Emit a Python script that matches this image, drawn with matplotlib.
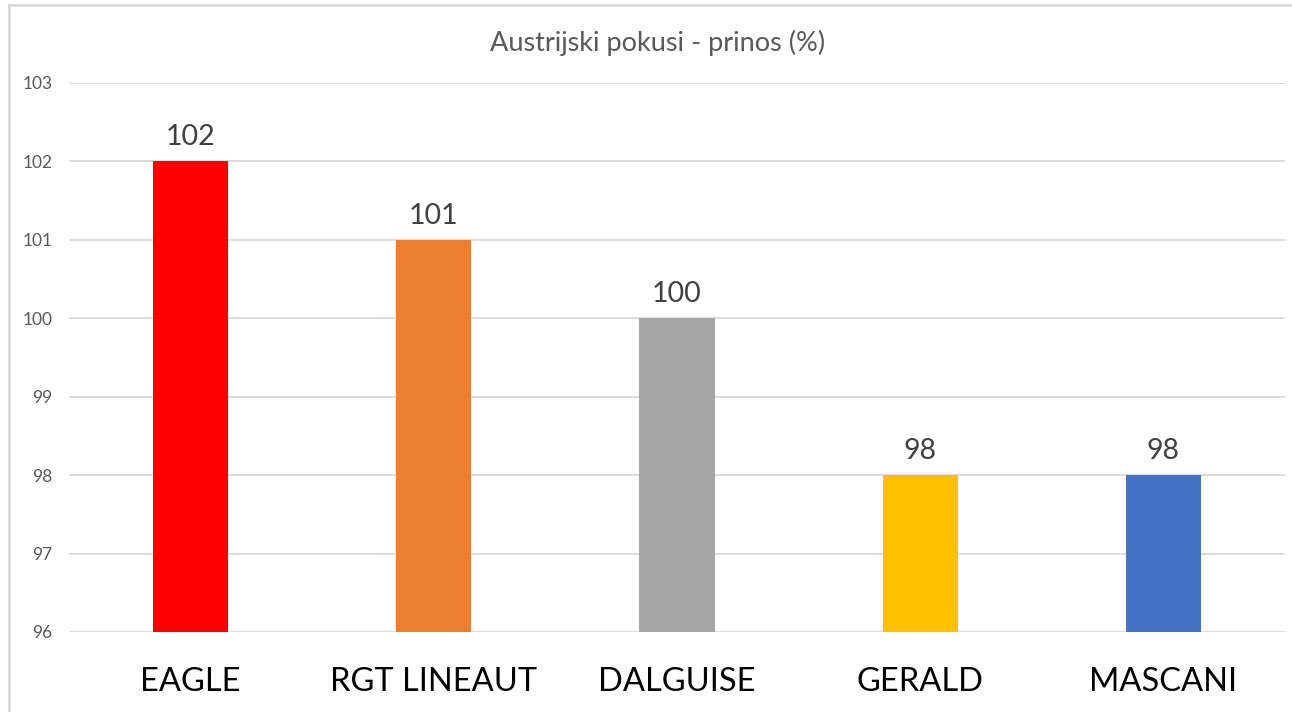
import matplotlib.pyplot as plt
from matplotlib.patches import Rectangle

categories = ["EAGLE", "RGT LINEAUT", "DALGUISE", "GERALD", "MASCANI"]
values = [102, 101, 100, 98, 98]
colors = ["#FF0000", "#ED7D31", "#A5A5A5", "#FFC000", "#4472C4"]
yticks = [96, 97, 98, 99, 100, 101, 102, 103]

plt.rcParams['font.family'] = ['Lato', 'DejaVu Sans']

W, H = 1292, 712
fig = plt.figure(figsize=(W / 100, H / 100), dpi=100)
ax = fig.add_axes([69 / W, 1 - 632 / H, (1285 - 69) / W, (632 - 83) / H])

x = list(range(len(categories)))
ax.bar(x, [v - 96 for v in values], bottom=96, width=0.31, color=colors, zorder=3)

for xi, v in zip(x, values):
    ax.text(xi, v + 0.14, str(v), ha='center', va='bottom', fontsize=20.5, color='#404040')

ax.set_xlim(-0.5, len(categories) - 0.5)
ax.set_ylim(96, 103)
ax.set_yticks(yticks)
ax.set_yticklabels([str(t) for t in yticks], fontsize=12.5, color='#595959')
ax.set_xticks(x)
ax.set_xticklabels(categories, fontsize=23.5, color='#000000')
ax.tick_params(axis='y', length=0, pad=12)
ax.tick_params(axis='x', length=0, pad=25)
ax.grid(axis='y', color='#D9D9D9', linewidth=1.3, zorder=0)
for s in ax.spines.values():
    s.set_visible(False)

fig.text(658 / W, 1 - 43 / H, "Austrijski pokusi - prinos (%)", ha='center', va='center',
         fontsize=19.5, color='#595959')

# outer chart border (only left and top visible)
fig.patches.append(Rectangle((9 / W, -0.1), 1.2, 1 - 5 / H + 0.1, transform=fig.transFigure,
                             fill=False, edgecolor='#D9D9D9', linewidth=2))

fig.savefig("out.png", dpi=100)
